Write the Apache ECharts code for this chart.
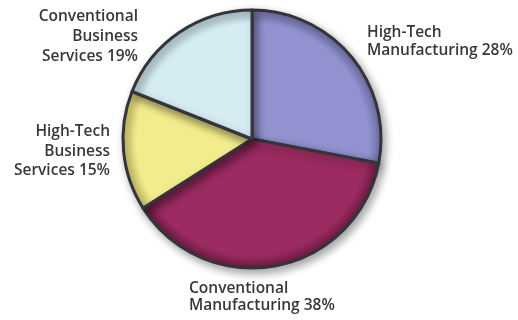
<!DOCTYPE html>
<html>
<head>
<meta charset="utf-8">
<script src="https://cdn.jsdelivr.net/npm/echarts@6/dist/echarts.min.js"></script>
<style>
  html, body { margin: 0; padding: 0; background: #fff; }
  #chart { width: 518px; height: 320px; }
</style>
</head>
<body>
<div id="chart"></div>
<script>
// Employment share by sector
const categories = [
  'High-Tech\nManufacturing',
  'Conventional\nManufacturing',
  'High-Tech\nBusiness\nServices',
  'Conventional\nBusiness\nServices'
];
const shares = [28, 38, 15, 19];
const colors = ['#9292d0', '#9b2b61', '#f2ec8c', '#d6ecf3'];
const rimColors = ['#6f6fa8', '#6e1a42', '#c9c26a', '#aac4cc'];

// label anchor for each slice: [x, y, align, lineHeight]
const labelSpots = [
  [367, 24, 'left', 18],
  [189, 280, 'left', 17],
  [110, 122, 'right', 19.5],
  [138, 6.5, 'right', 20]
];

const chart = echarts.init(document.getElementById('chart'), null, { renderer: 'canvas' });

// slightly darkened rim for a domed look
function sliceFill(i) {
  return {
    type: 'radial', x: 252, y: 139, r: 129, global: true,
    colorStops: [
      { offset: 0, color: colors[i] },
      { offset: 0.9, color: colors[i] },
      { offset: 1, color: rimColors[i] }
    ]
  };
}

const data = categories.map((name, i) => ({
  name: name,
  value: shares[i],
  itemStyle: { color: sliceFill(i) },
  label: { lineHeight: labelSpots[i][3] }
}));

chart.setOption({
  animation: false,
  backgroundColor: '#ffffff',
  series: [{
    type: 'pie',
    center: [252, 139],
    radius: [0, 129],
    startAngle: 90,
    clockwise: true,
    data: data,
    itemStyle: {
      borderColor: '#34343a',
      borderWidth: 3,
      shadowBlur: 8,
      shadowOffsetX: 3,
      shadowOffsetY: 4,
      shadowColor: 'rgba(0,0,0,0.35)'
    },
    label: {
      show: true,
      position: 'outside',
      formatter: p => p.name + ' ' + p.value + '%',
      fontFamily: '"Open Sans", sans-serif',
      fontWeight: 600,
      fontSize: 15.5,
      overflow: 'none',
      width: 300,
      color: '#383838'
    },
    labelLine: { show: false },
    labelLayout: params => {
      const s = labelSpots[params.dataIndex];
      return { x: s[0], y: s[1], align: s[2], verticalAlign: 'top' };
    }
  }]
});
</script>
</body>
</html>
